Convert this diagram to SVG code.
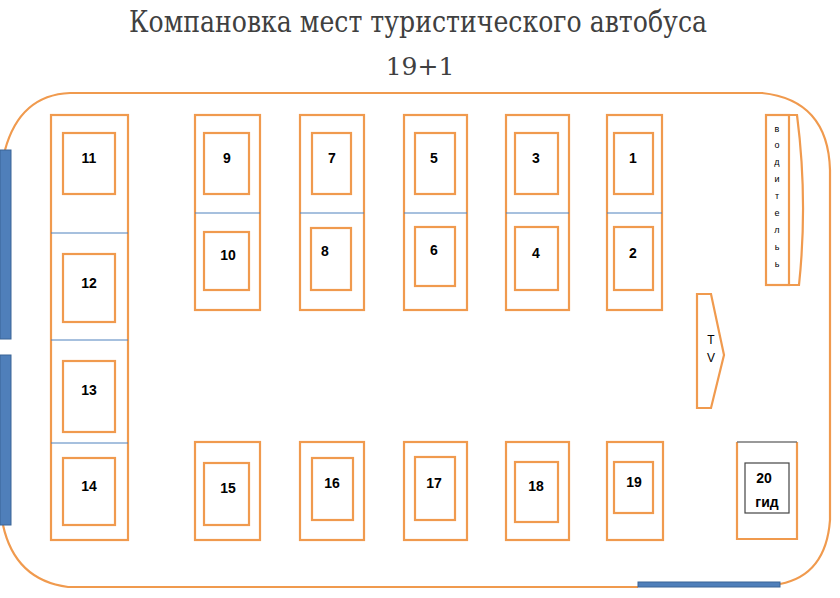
<svg xmlns="http://www.w3.org/2000/svg" width="840" height="598" viewBox="0 0 840 598">
<style>
.o{fill:none;stroke:#F09A4E;stroke-width:2.2}
.d{stroke:#4F81BD;stroke-width:1}
.b{fill:#4F7FBA;stroke:#3A6496;stroke-width:1}
.n{font-family:"Liberation Sans",Arial,sans-serif;font-size:14px;font-weight:bold;fill:#000;text-anchor:middle}
.t{font-family:"DejaVu Serif","Liberation Serif",serif;fill:#404040;text-anchor:middle}
.tv{font-family:"Liberation Sans",Arial,sans-serif;font-size:12px;fill:#000;text-anchor:middle}
</style>
<rect width="840" height="598" fill="#fff"/>
<text class="t" x="418" y="32" font-size="30" textLength="578" lengthAdjust="spacingAndGlyphs">Компановка мест туристического автобуса</text>
<text class="t" x="420" y="75" font-size="25">19+1</text>
<g id="bus">
<path class="o" d="M5,150 Q20,95 70,93 L762,93 Q828,100 830,170 L830,520 Q826,575 780,584"/>
<path class="o" d="M3,525 Q15,580 68,587 L638,587"/>
<rect class="b" x="0" y="150" width="11" height="189"/>
<rect class="b" x="0" y="355" width="11" height="170"/>
<rect class="b" x="638" y="582" width="142" height="5"/>
</g>
<g id="back-row">
<rect class="o" x="51" y="115" width="77" height="425"/>
<line class="d" x1="51" y1="233" x2="128" y2="233"/>
<line class="d" x1="51" y1="340" x2="128" y2="340"/>
<line class="d" x1="51" y1="443" x2="128" y2="443"/>
<rect class="o" x="63" y="133" width="52" height="61"/><text class="n" x="89" y="163">11</text>
<rect class="o" x="63" y="254" width="52" height="68"/><text class="n" x="89" y="288">12</text>
<rect class="o" x="63" y="361" width="52" height="71"/><text class="n" x="89" y="395">13</text>
<rect class="o" x="63" y="458" width="52" height="67"/><text class="n" x="89" y="491">14</text>
</g>
<g id="pair-9-10">
<rect class="o" x="195" y="115" width="65" height="195"/><line class="d" x1="195" y1="213" x2="260" y2="213"/>
<rect class="o" x="204" y="133" width="45" height="61"/><text class="n" x="227" y="163">9</text>
<rect class="o" x="204" y="232" width="45" height="58"/><text class="n" x="228" y="260">10</text>
</g>
<g id="pair-7-8">
<rect class="o" x="300" y="115" width="64" height="195"/><line class="d" x1="300" y1="213" x2="364" y2="213"/>
<rect class="o" x="312" y="133" width="39" height="61"/><text class="n" x="332" y="163">7</text>
<rect class="o" x="311" y="228" width="40" height="62"/><text class="n" x="325" y="256">8</text>
</g>
<g id="pair-5-6">
<rect class="o" x="404" y="115" width="63" height="195"/><line class="d" x1="404" y1="213" x2="467" y2="213"/>
<rect class="o" x="415" y="133" width="40" height="61"/><text class="n" x="434" y="163">5</text>
<rect class="o" x="415" y="227" width="40" height="59"/><text class="n" x="434" y="255">6</text>
</g>
<g id="pair-3-4">
<rect class="o" x="506" y="115" width="63" height="195"/><line class="d" x1="506" y1="213" x2="569" y2="213"/>
<rect class="o" x="515" y="133" width="43" height="61"/><text class="n" x="536" y="163">3</text>
<rect class="o" x="515" y="227" width="43" height="63"/><text class="n" x="536" y="258">4</text>
</g>
<g id="pair-1-2">
<rect class="o" x="607" y="115" width="55" height="195"/><line class="d" x1="607" y1="213" x2="662" y2="213"/>
<rect class="o" x="614" y="133" width="39" height="61"/><text class="n" x="633" y="163">1</text>
<rect class="o" x="614" y="227" width="39" height="63"/><text class="n" x="633" y="258">2</text>
</g>
<g id="seat-15"><rect class="o" x="195" y="442" width="65" height="98"/><rect class="o" x="204" y="463" width="45" height="62"/><text class="n" x="228" y="493">15</text></g>
<g id="seat-16"><rect class="o" x="300" y="442" width="64" height="98"/><rect class="o" x="312" y="458" width="41" height="62"/><text class="n" x="332" y="488">16</text></g>
<g id="seat-17"><rect class="o" x="404" y="442" width="63" height="98"/><rect class="o" x="415" y="457" width="40" height="63"/><text class="n" x="434" y="488">17</text></g>
<g id="seat-18"><rect class="o" x="506" y="442" width="63" height="98"/><rect class="o" x="515" y="462" width="43" height="60"/><text class="n" x="536" y="491">18</text></g>
<g id="seat-19"><rect class="o" x="607" y="442" width="56" height="98"/><rect class="o" x="614" y="462" width="39" height="51"/><text class="n" x="634" y="487">19</text></g>
<g id="seat-20">
<path class="o" d="M737,442 L737,539 L797,539 L797,442"/><line x1="737" y1="442" x2="797" y2="442" stroke="#777" stroke-width="1.5"/>
<rect x="745" y="463" width="44" height="50" fill="none" stroke="#444" stroke-width="1.2"/>
<text class="n" x="764" y="483">20</text><text class="n" x="767" y="507" font-size="13">гид</text>
</g>
<g id="driver">
<rect class="o" x="766" y="115" width="23" height="170"/>
<path class="o" d="M789,115 L797,115 Q808,200 799,285 L789,285"/>
<g font-family="Liberation Sans,Arial,sans-serif" font-size="9" text-anchor="middle" fill="#000">
<text x="777" y="132">в</text><text x="777" y="148">о</text><text x="777" y="165">д</text><text x="777" y="182">и</text><text x="777" y="199">т</text><text x="777" y="216">е</text><text x="777" y="233">л</text><text x="777" y="250">ь</text><text x="777" y="267">ь</text>
</g>
</g>
<g id="tv">
<polygon class="o" points="697,294 711,294 724,355 711,408 697,408"/>
<text class="tv" x="711" y="344">T</text>
<text class="tv" x="711" y="362">V</text>
</g>
<g id="connectors"/>
</svg>
